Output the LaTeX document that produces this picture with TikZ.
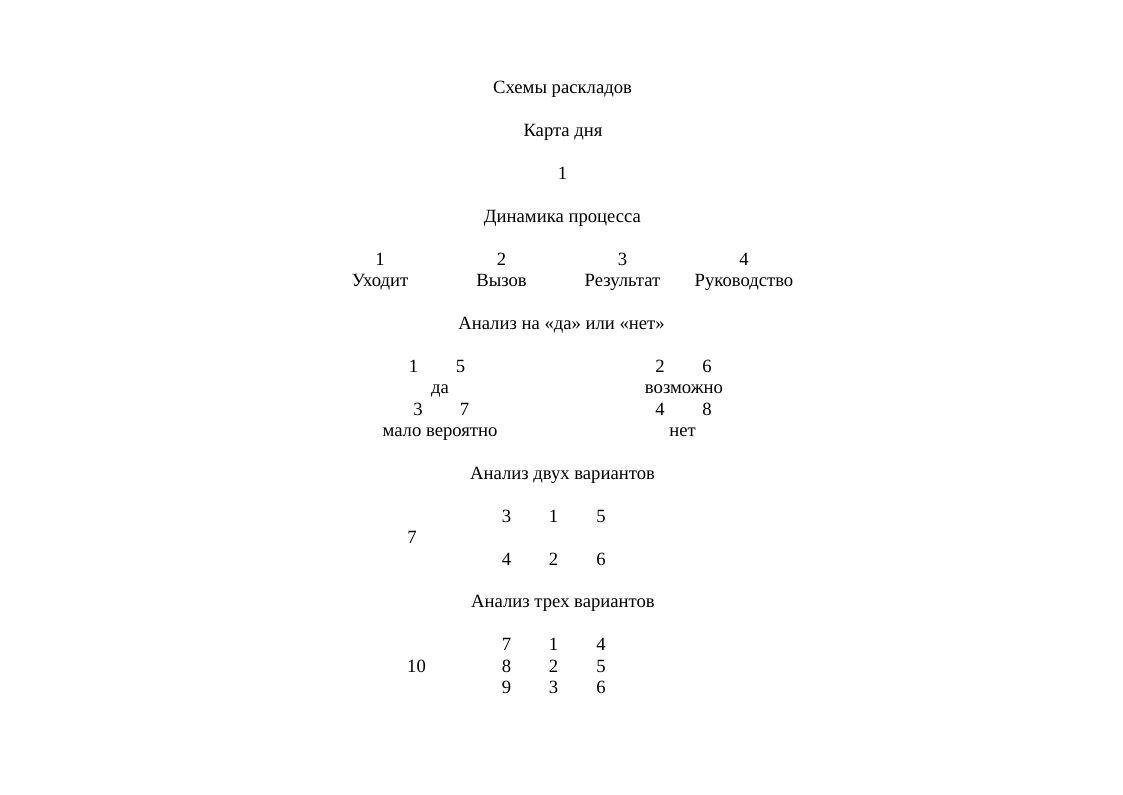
\documentclass[tikz,border=0pt]{standalone}
\usepackage{fontspec}
\setmainfont{Liberation Serif}
\begin{document}
\begin{tikzpicture}[x=0.75pt,y=-0.75pt,
  txt/.style={inner sep=0pt,outer sep=0pt,anchor=base,font=\fontsize{14pt}{16.1pt}\selectfont}]
\useasboundingbox[fill=white] (0,0) rectangle (1123,794);
% titles
\node[txt] (t1) at (562.5,{93.6+0*21.43}) {Схемы раскладов};
\node[txt] (t2) at (563,{93.6+2*21.43}) {Карта дня};
\node[txt] (k1) at (562.5,{93.6+4*21.43}) {1};
\node[txt] (t3) at (562.5,{93.6+6*21.43}) {Динамика процесса};
% dynamics
\node[txt] (d1) at (380,{93.6+8*21.43}) {1};
\node[txt] (d2) at (501.5,{93.6+8*21.43}) {2};
\node[txt] (d3) at (622.5,{93.6+8*21.43}) {3};
\node[txt] (d4) at (744,{93.6+8*21.43}) {4};
\node[txt] (dl1) at (380,{93.6+9*21.43}) {Уходит};
\node[txt] (dl2) at (501.5,{93.6+9*21.43}) {Вызов};
\node[txt] (dl3) at (622.5,{93.6+9*21.43}) {Результат};
\node[txt] (dl4) at (744,{93.6+9*21.43}) {Руководство};
% yes/no
\node[txt] (t4) at (561.5,{93.6+11*21.43}) {Анализ на «да» или «нет»};
\node[txt] (y1) at (413.5,{93.6+13*21.43}) {1};
\node[txt] (y5) at (460.5,{93.6+13*21.43}) {5};
\node[txt] (y2) at (660,{93.6+13*21.43}) {2};
\node[txt] (y6) at (707,{93.6+13*21.43}) {6};
\node[txt] (yl1) at (440,{93.6+14*21.43}) {да};
\node[txt] (yl2) at (684,{93.6+14*21.43}) {возможно};
\node[txt] (y3) at (418,{93.6+15*21.43}) {3};
\node[txt] (y7) at (464.5,{93.6+15*21.43}) {7};
\node[txt] (y4) at (660,{93.6+15*21.43}) {4};
\node[txt] (y8) at (707,{93.6+15*21.43}) {8};
\node[txt] (yl3) at (440,{93.6+16*21.43}) {мало вероятно};
\node[txt] (yl4) at (682.5,{93.6+16*21.43}) {нет};
% two variants
\node[txt] (t5) at (562.5,{93.6+18*21.43}) {Анализ двух вариантов};
\node[txt] (a3) at (506.5,{93.6+20*21.43}) {3};
\node[txt] (a1) at (553.5,{93.6+20*21.43}) {1};
\node[txt] (a5) at (601,{93.6+20*21.43}) {5};
\node[txt] (a7) at (412,{93.6+21*21.43}) {7};
\node[txt] (a4) at (506.5,{93.6+22*21.43}) {4};
\node[txt] (a2) at (553.5,{93.6+22*21.43}) {2};
\node[txt] (a6) at (601,{93.6+22*21.43}) {6};
% three variants
\node[txt] (t6) at (563,{93.6+24*21.43}) {Анализ трех вариантов};
\node[txt] (b7) at (506.5,{93.6+26*21.43}) {7};
\node[txt] (b1) at (553.5,{93.6+26*21.43}) {1};
\node[txt] (b4) at (601,{93.6+26*21.43}) {4};
\node[txt] (b10) at (416.5,{93.6+27*21.43}) {10};
\node[txt] (b8) at (506.5,{93.6+27*21.43}) {8};
\node[txt] (b2) at (553.5,{93.6+27*21.43}) {2};
\node[txt] (b5) at (601,{93.6+27*21.43}) {5};
\node[txt] (b9) at (506.5,{93.6+28*21.43}) {9};
\node[txt] (b3) at (553.5,{93.6+28*21.43}) {3};
\node[txt] (b6) at (601,{93.6+28*21.43}) {6};
\end{tikzpicture}
\end{document}
